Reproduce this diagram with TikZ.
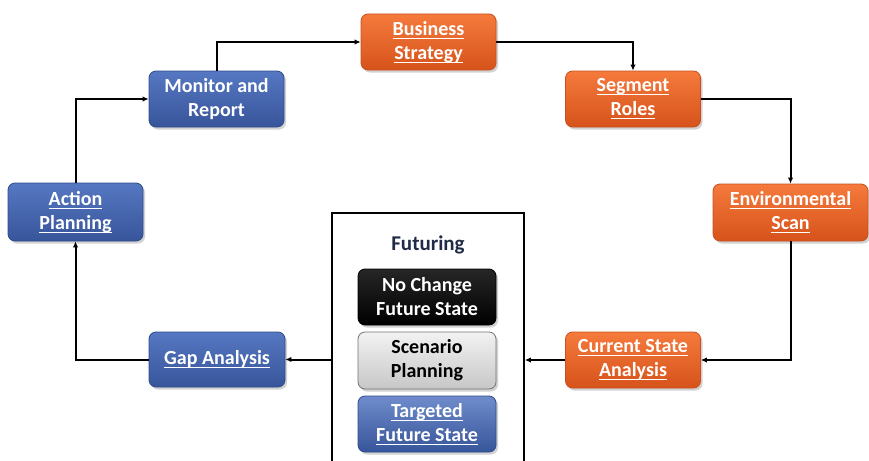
\documentclass[tikz,border=0pt]{standalone}
\usepackage{fontspec}
\setmainfont{Carlito}
\usetikzlibrary{arrows.meta,shadows}
\newcommand\myul[1]{\leavevmode\setbox0\hbox{#1}\rlap{\rule[-3.8pt]{\wd0}{1.4pt}}\box0}
\definecolor{orTop}{HTML}{F57A3C}
\definecolor{orBot}{HTML}{D6531B}
\definecolor{orLine}{HTML}{C9501E}
\definecolor{blTop}{HTML}{5677C2}
\definecolor{blBot}{HTML}{37559A}
\definecolor{blLine}{HTML}{2F4C8A}
\definecolor{navy}{HTML}{1F2B47}
\tikzset{
  fbox/.style={rounded corners=7pt, minimum width=135pt, minimum height=56pt, align=center,
    font=\fontsize{20}{24}\selectfont\bfseries, text=white, line width=0.8pt,
    drop shadow={shadow xshift=2pt, shadow yshift=-2.5pt, opacity=0.35}},
  orbox/.style={fbox, draw=orLine, top color=orTop, bottom color=orBot},
  blbox/.style={fbox, draw=blLine, top color=blTop, bottom color=blBot},
  bkbox/.style={fbox, draw=black, top color=black!85!white, bottom color=black},
  grbox/.style={fbox, draw=black!55, top color=black!5, bottom color=black!22, text=black},
  conn/.style={line width=2pt, -{Latex[length=6pt,width=5.5pt]}}
}
\begin{document}
\begin{tikzpicture}[x=1pt,y=-1pt]
\path[use as bounding box, clip] (0,0) rectangle (869,460);
\fill[white] (0,0) rectangle (869,460);
% cycle boxes
\node[orbox] (bs) at (428.5,42) {\myul{Business}\\\myul{Strategy}};
\node[orbox] (sr) at (633,99) {\myul{Segment}\\\myul{Roles}};
\node[orbox, minimum width=155pt, minimum height=57pt] (es) at (790.5,212.5) {\myul{Environmental}\\\myul{Scan}};
\node[orbox] (cs) at (633,360) {\myul{Current State}\\\myul{Analysis}};
\node[blbox, minimum width=136pt, minimum height=55pt] (ga) at (217,359.5) {\myul{Gap Analysis}};
\node[blbox, minimum height=58pt] (ap) at (75.5,212) {\myul{Action}\\\myul{Planning}};
\node[blbox] (mr) at (216.5,99) {Monitor and\\Report};
% futuring
\node[draw=black, line width=1.8pt, minimum width=192pt, minimum height=267pt] (fut) at (428,346.5) {};
\node[font=\fontsize{21}{24}\selectfont\bfseries, text=navy] (ft) at (428,245) {Futuring};
\node[bkbox, minimum width=138pt] (nc) at (427,297) {No Change\\Future State};
\node[grbox, minimum width=138pt, minimum height=57pt] (sp) at (427,360.5) {Scenario\\Planning};
\node[blbox, minimum width=138pt, top color=blTop!85!white] (tf) at (427,424) {\myul{Targeted}\\\myul{Future State}};
% connectors
\draw[conn] (mr.north) |- (bs.west);
\draw[conn] (bs.east) -| (sr.north);
\draw[conn] (sr.east) -| (es.north);
\draw[conn] (es.south) |- (cs.east);
\draw[conn] (cs.west) -- (cs.west -| fut.east);
\draw[conn] (fut.west |- ga.east) -- (ga.east);
\draw[conn] (ga.west) -| (ap.south);
\draw[conn] (ap.north) |- (mr.west);
\end{tikzpicture}
\end{document}
